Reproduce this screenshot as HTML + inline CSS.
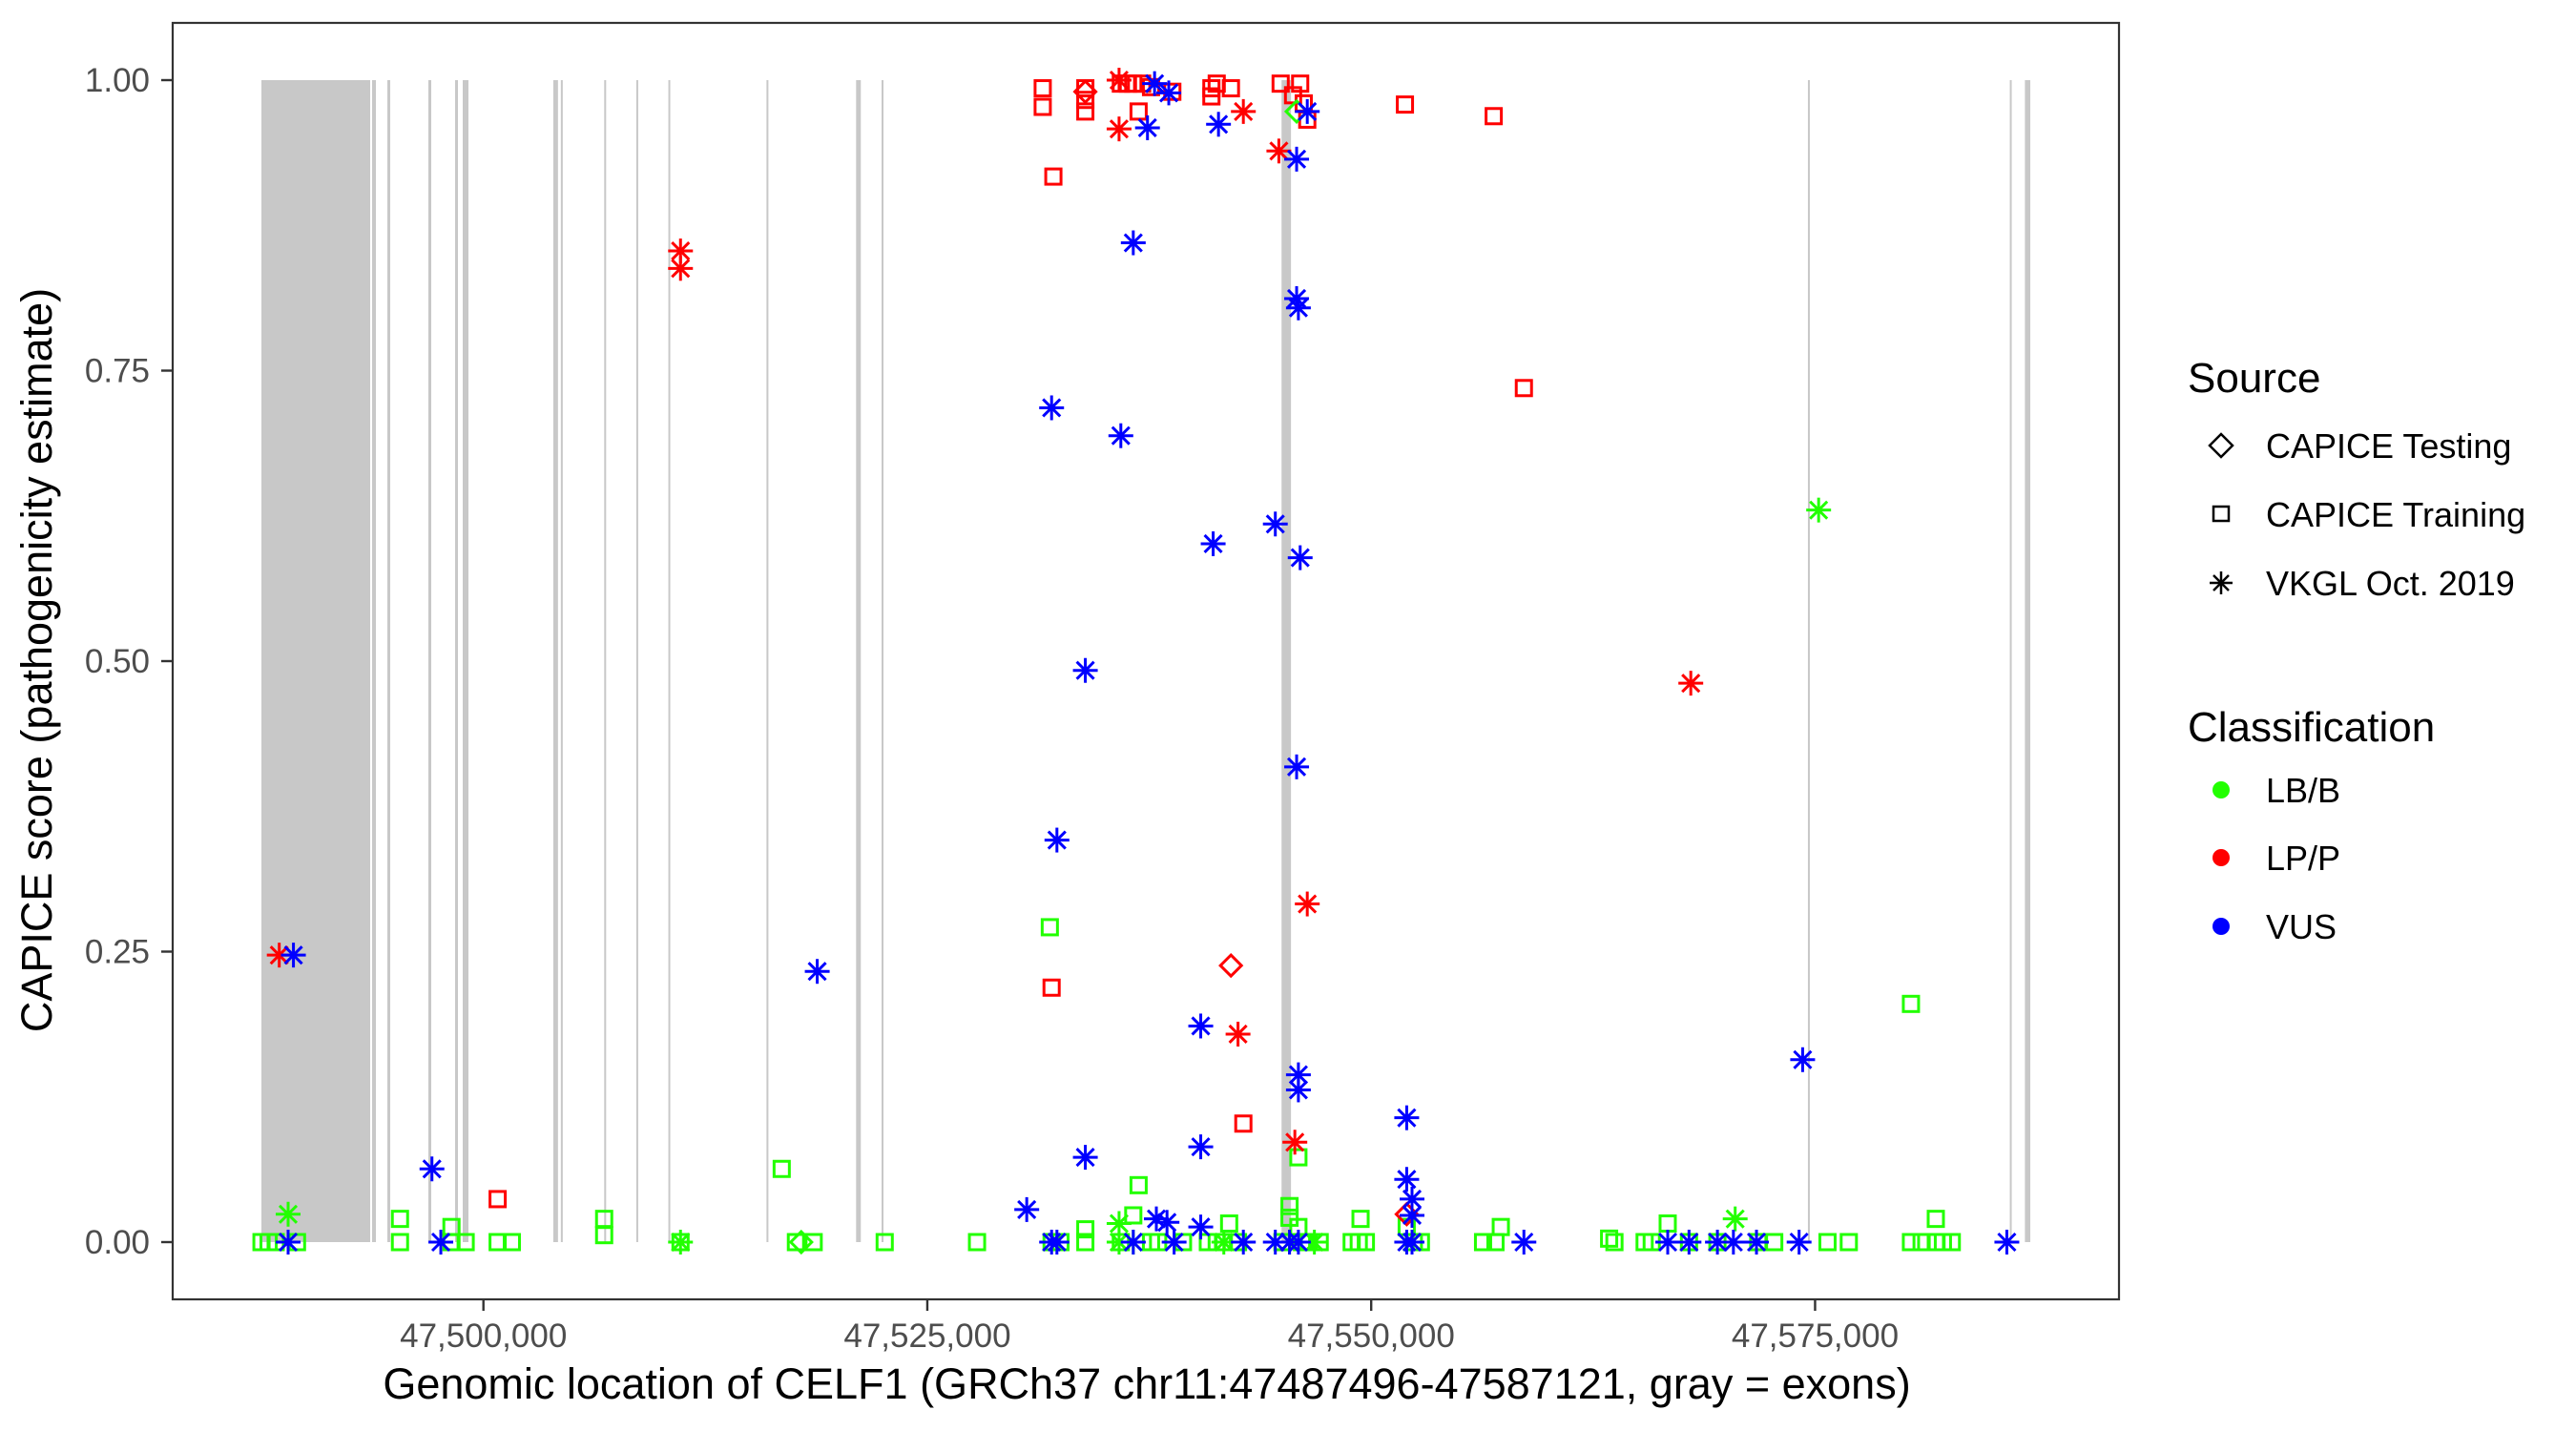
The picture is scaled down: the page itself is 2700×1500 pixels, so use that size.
<!DOCTYPE html>
<html><head><meta charset="utf-8"><style>
html,body{margin:0;padding:0;background:#fff;}
svg{display:block;font-family:"Liberation Sans",Arial,sans-serif;}
</style></head><body>
<svg id="chart" width="2700" height="1500" viewBox="0 0 2700 1500" xmlns="http://www.w3.org/2000/svg">
<rect x="0" y="0" width="2700" height="1500" fill="#fff"/>
<g id="exons"></g>
<g id="points"></g>
<rect x="181" y="24" width="2040" height="1338" fill="none" stroke="#333" stroke-width="2.2"/>
<g id="yaxis"></g>
<g id="xaxis"></g>
<text x="1202" y="1466" font-size="45" text-anchor="middle" fill="#000">Genomic location of CELF1 (GRCh37 chr11:47487496-47587121, gray = exons)</text>
<text transform="translate(54,692) rotate(-90)" font-size="45" text-anchor="middle" fill="#000">CAPICE score (pathogenicity estimate)</text>
<g>
<text x="2293" y="411" font-size="44" fill="#000">Source</text>
<path d="M2328 455 L2340 467 L2328 479 L2316 467 Z" fill="none" stroke="#000" stroke-width="2.5"/>
<text x="2375" y="480" font-size="36">CAPICE Testing</text>
<rect x="2320" y="531" width="16" height="15" fill="none" stroke="#000" stroke-width="2.5"/>
<text x="2375" y="552" font-size="36">CAPICE Training</text>
<g stroke="#000" stroke-width="2.5"><line x1="2328" y1="599" x2="2328" y2="623"/><line x1="2316" y1="611" x2="2340" y2="611"/><line x1="2320" y1="603" x2="2336" y2="619"/><line x1="2320" y1="619" x2="2336" y2="603"/></g>
<text x="2375" y="624" font-size="36">VKGL Oct. 2019</text>
<text x="2293" y="777" font-size="44" fill="#000">Classification</text>
<circle cx="2328" cy="828" r="9" fill="#22ff00"/>
<text x="2375" y="841" font-size="36">LB/B</text>
<circle cx="2328" cy="899" r="9" fill="#ff0000"/>
<text x="2375" y="912" font-size="36">LP/P</text>
<circle cx="2328" cy="971" r="9" fill="#0000ff"/>
<text x="2375" y="984" font-size="36">VUS</text>
</g>
</svg>
<script>
// ---- data ----
const exonStarts = [47487496,47493729,47494589,47496900,47498404,47498834,47503934,47504360,47506803,47508610,47510416,47515942,47520989,47522424,47544951,47574597,47585967,47586818];
const exonEnds   = [47493622,47493944,47494750,47497061,47498565,47499156,47504200,47504466,47506909,47508716,47510522,47516048,47521255,47522530,47545482,47574703,47586073,47587121];
const xTicks = [47500000,47525000,47550000,47575000];
const xTickLabels = ["47,500,000","47,525,000","47,550,000","47,575,000"];
const yTicks = [0,0.25,0.5,0.75,1];
const yTickLabels = ["0.00","0.25","0.50","0.75","1.00"];

// positions in kb
const trainLPPos = [47531.5,47531.5,47533.9,47533.9,47533.9,47536.9,47535.9,47536.3,47536.6,47537.1,47537.6,47538.8,47541.0,47541.3,47542.1,47541.0,47544.9,47546.0,47545.6,47546.2,47546.4,47551.9,47556.9,47532.1,47558.6,47532.0,47542.8,47500.8];
const trainLPScore = [0.993,0.977,0.993,0.983,0.973,0.973,0.997,0.997,0.997,0.997,0.994,0.99,0.993,0.997,0.993,0.986,0.997,0.997,0.987,0.98,0.966,0.979,0.969,0.917,0.735,0.219,0.102,0.037];
const testLPPos = [47533.9,47542.1,47552.0];
const testLPScore = [0.99,0.238,0.024];
const vkglLPPos = [47535.8,47535.8,47542.8,47544.8,47511.1,47511.1,47488.5,47542.5,47546.4,47545.7,47568.0];
const vkglLPScore = [0.958,1.0,0.973,0.939,0.853,0.838,0.247,0.179,0.291,0.086,0.481];
const vkglVUSPos = [47489.3,47537.4,47537.8,47538.6,47541.4,47545.8,47546.4,47536.6,47545.8,47545.9,47532.0,47535.9,47544.6,47541.1,47546.0,47533.9,47545.8,47532.3,47518.8,47540.4,47545.9,47545.9,47574.3,47497.1,47533.9,47540.4,47552.0,47552.0,47552.3,47552.3,47530.6,47537.9,47538.5,47540.4,
  47489.0,47497.6,47532.0,47532.3,47536.6,47538.9,47542.8,47544.6,47545.4,47545.9,47552.0,47552.3,47558.6,47566.7,47567.9,47569.5,47570.4,47571.7,47574.1,47585.8];
const vkglVUSScore = [0.247,0.959,0.997,0.989,0.962,0.932,0.973,0.860,0.812,0.804,0.718,0.694,0.618,0.601,0.589,0.492,0.409,0.346,0.233,0.186,0.144,0.131,0.157,0.063,0.073,0.082,0.107,0.054,0.037,0.023,0.028,0.020,0.017,0.013,
  0,0,0,0,0,0,0,0,0,0,0,0,0,0,0,0,0,0,0,0];
const vkglLBPos = [47489.0,47575.2,47570.5,47535.8,47489.0,47511.1,47535.8,47536.6,47541.7,47545.4,47546.8,47552.3];
const vkglLBScore = [0.024,0.63,0.020,0.016,0,0,0,0,0,0,0,0];
const testLBPos = [47545.8,47517.9];
const testLBScore = [0.973,0];
const trainLBPos = [47531.9,47580.4,47516.8,47536.9,47545.9,47495.3,47506.8,47549.4,47581.8,47498.2,47506.8,47533.9,47542.0,47545.4,47557.3,47566.7,47563.4,47536.6,47545.4,47545.9,47552.0,
  47487.5,47487.9,47488.3,47489.5,47495.3,47498.2,47499.0,47500.8,47501.6,47511.1,47517.6,47518.6,47522.6,47527.8,47532.0,47532.5,47533.9,47535.9,47537.6,47538.0,47539.4,47540.8,47541.3,47541.7,47542.5,47545.0,47546.1,47546.5,47547.1,47548.9,47549.3,47549.7,47552.4,47552.8,47556.3,47557.0,47563.7,47565.4,47565.8,47567.9,47569.5,47571.8,47572.7,47575.7,47576.9,47580.4,47581.0,47581.8,47582.2,47582.7];
const trainLBScore = [0.271,0.205,0.063,0.049,0.073,0.020,0.020,0.020,0.020,0.013,0.006,0.011,0.016,0.031,0.013,0.016,0.003,0.023,0.021,0.013,0.013,
  0,0,0,0,0,0,0,0,0,0,0,0,0,0,0,0,0,0,0,0,0,0,0,0,0,0,0,0,0,0,0,0,0,0,0,0,0,0,0,0,0,0,0,0,0,0,0,0,0,0];

// ---- scales ----
const NS = "http://www.w3.org/2000/svg";
function xScale(bp){ return 274 + (bp - 47487496) * 0.01861; }
function xKb(kb){ return xScale(kb * 1000); }
function yScale(v){ return 1302 - v * 1218; }
const COL = {B:"#22ff00", P:"#ff0000", V:"#0000ff"};

function mk(tag, attrs, parent){
  const el = document.createElementNS(NS, tag);
  for (const k in attrs) el.setAttribute(k, attrs[k]);
  parent.appendChild(el);
  return el;
}

// exons
const exG = document.getElementById("exons");
for (let i = 0; i < exonStarts.length; i++){
  const x0 = xScale(exonStarts[i]), x1 = xScale(exonEnds[i]);
  const r = mk("rect", {x:x0, y:yScale(1), width:Math.max(2, x1 - x0), height:yScale(0) - yScale(1), fill:"#c8c8c8"}, exG);
  
  
}

// axes
const yA = document.getElementById("yaxis");
yTicks.forEach((v, i) => {
  const y = yScale(v);
  const t = mk("line", {x1:169, x2:181, y1:y, y2:y, stroke:"#333", "stroke-width":2.4}, yA);
  
  
  const l = mk("text", {x:157, y:y + 12, "font-size":35, "text-anchor":"end", fill:"#4d4d4d"}, yA);
  l.textContent = yTickLabels[i];
  
  
});
const xA = document.getElementById("xaxis");
xTicks.forEach((v, i) => {
  const x = xScale(v);
  const t = mk("line", {x1:x, x2:x, y1:1362, y2:1374, stroke:"#333", "stroke-width":2.4}, xA);
  
  
  const l = mk("text", {x:x, y:1412, "font-size":35, "text-anchor":"middle", fill:"#4d4d4d"}, xA);
  l.textContent = xTickLabels[i];
  
  
});

// points
const pG = document.getElementById("points");
function square(x, y, c){
  const e = mk("rect", {x:x - 8, y:y - 8, width:16, height:16, fill:"none", stroke:c, "stroke-width":3}, pG);
  
  
}
function diamond(x, y, c){
  const e = mk("path", {d:`M${x} ${y-11} L${x+11} ${y} L${x} ${y+11} L${x-11} ${y} Z`, fill:"none", stroke:c, "stroke-width":3}, pG);
  
  
}
function star(x, y, c){
  const g = mk("g", {stroke:c, "stroke-width":3}, pG);
  
  
  mk("line", {x1:x, y1:y - 13, x2:x, y2:y + 13}, g);
  mk("line", {x1:x - 13, y1:y, x2:x + 13, y2:y}, g);
  mk("line", {x1:x - 9, y1:y - 9, x2:x + 9, y2:y + 9}, g);
  mk("line", {x1:x - 9, y1:y + 9, x2:x + 9, y2:y - 9}, g);
}
function series(pos, score, fn, c){
  for (let i = 0; i < pos.length; i++) fn(xKb(pos[i]), yScale(score[i]), c);
}
series(trainLBPos, trainLBScore, square, COL.B);
series(trainLPPos, trainLPScore, square, COL.P);
series(testLBPos, testLBScore, diamond, COL.B);
series(testLPPos, testLPScore, diamond, COL.P);
series(vkglLBPos, vkglLBScore, star, COL.B);
series(vkglLPPos, vkglLPScore, star, COL.P);
series(vkglVUSPos, vkglVUSScore, star, COL.V);
</script>
</body></html>
